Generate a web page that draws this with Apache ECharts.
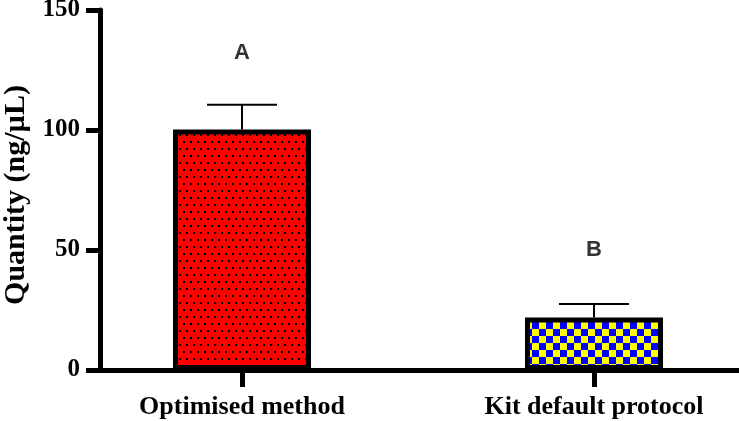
<!DOCTYPE html>
<html>
<head>
<meta charset="utf-8">
<script src="https://cdn.jsdelivr.net/npm/echarts@6/dist/echarts.min.js"></script>
<style>html,body{margin:0;padding:0;background:#fff;}#c{width:739px;height:421px;}</style>
</head>
<body>
<div id="c"></div>
<script>
const categories = ['Optimised method', 'Kit default protocol'];
const means = [100.2, 21.9];
const errors = [10.3, 5.6];
const letters = ['A', 'B'];
const letterY = [132, 50];
const yTicks = { min: 0, max: 150, interval: 50 };

function dotPattern() {
  const c = document.createElement('canvas');
  c.width = 14; c.height = 14;
  const g = c.getContext('2d');
  g.fillStyle = '#ff0000'; g.fillRect(0, 0, 14, 14);
  g.fillStyle = '#000';
  [[1,1],[8,1],[4,8],[11,8]].forEach(p => g.fillRect(p[0], p[1], 2, 2));
  return c;
}
function checkPattern() {
  const c = document.createElement('canvas');
  c.width = 14; c.height = 14;
  const g = c.getContext('2d');
  g.fillStyle = '#ffff00'; g.fillRect(0, 0, 14, 14);
  g.fillStyle = '#0000ff';
  g.fillRect(0, 0, 7, 7); g.fillRect(7, 7, 7, 7);
  return c;
}
const fills = [{ image: dotPattern(), repeat: 'repeat' }, { image: checkPattern(), repeat: 'repeat' }];

const serif = '"Liberation Serif", "Times New Roman", serif';
const catIdx = categories.map((c, i) => i);
const chart = echarts.init(document.getElementById('c'), null, { renderer: 'canvas' });
chart.setOption({
  animation: false,
  grid: { left: 100, right: 0, top: 10, bottom: 51, containLabel: false, outerBoundsMode: 'none' },
  xAxis: {
    type: 'value', min: -0.40341, max: 1.41193,
    axisLine: { show: true, onZero: false, lineStyle: { color: '#000', width: 5 } },
    axisTick: { show: true, customValues: catIdx, length: 17, lineStyle: { color: '#000', width: 5 } },
    axisLabel: { show: true, customValues: catIdx, formatter: v => categories[Math.round(v)] || '',
      margin: 24, color: '#000', fontFamily: serif, fontWeight: 'bold', fontSize: 26 },
    splitLine: { show: false }
  },
  yAxis: {
    type: 'value', min: yTicks.min, max: yTicks.max, interval: yTicks.interval,
    axisLine: { show: true, onZero: false, lineStyle: { color: '#000', width: 5 } },
    axisTick: { show: true, length: 14, lineStyle: { color: '#000', width: 5 } },
    axisLabel: { margin: 20, color: '#000', fontFamily: serif, fontWeight: 'bold', fontSize: 25 },
    splitLine: { show: false },
    name: 'Quantity (ng/µL)', nameLocation: 'middle', nameRotate: 90, nameGap: 62,
    nameTextStyle: { color: '#000', fontFamily: serif, fontWeight: 'bold', fontSize: 30, padding: [0, 10, 0, 0] }
  },
  series: [
    { type: 'custom', z: 1,
      data: catIdx.map(i => [i, means[i], errors[i]]),
      renderItem: function (params, api) {
        const base = api.coord([api.value(0), api.value(1)]);
        const top = api.coord([api.value(0), api.value(1) + api.value(2)]);
        const st = { stroke: '#000', lineWidth: 2 };
        return { type: 'group', children: [
          { type: 'line', shape: { x1: base[0], y1: base[1], x2: top[0], y2: top[1] }, style: st },
          { type: 'line', shape: { x1: top[0] - 35, y1: top[1], x2: top[0] + 35, y2: top[1] }, style: st }
        ] };
      } },
    { type: 'bar', z: 2, barWidth: 138,
      data: catIdx.map(i => ({ value: [i, means[i]], itemStyle: { color: fills[i], borderColor: '#000', borderWidth: 5 } })) },
    { type: 'scatter', z: 3, symbolSize: 0,
      data: catIdx.map(i => [i, letterY[i]]),
      label: { show: true, position: 'inside', formatter: p => letters[p.dataIndex],
        color: '#000', textBorderWidth: 0, fontFamily: '"Liberation Sans", Arial, sans-serif', fontWeight: 'bold', fontSize: 22 } }
  ]
});
</script>
</body>
</html>
